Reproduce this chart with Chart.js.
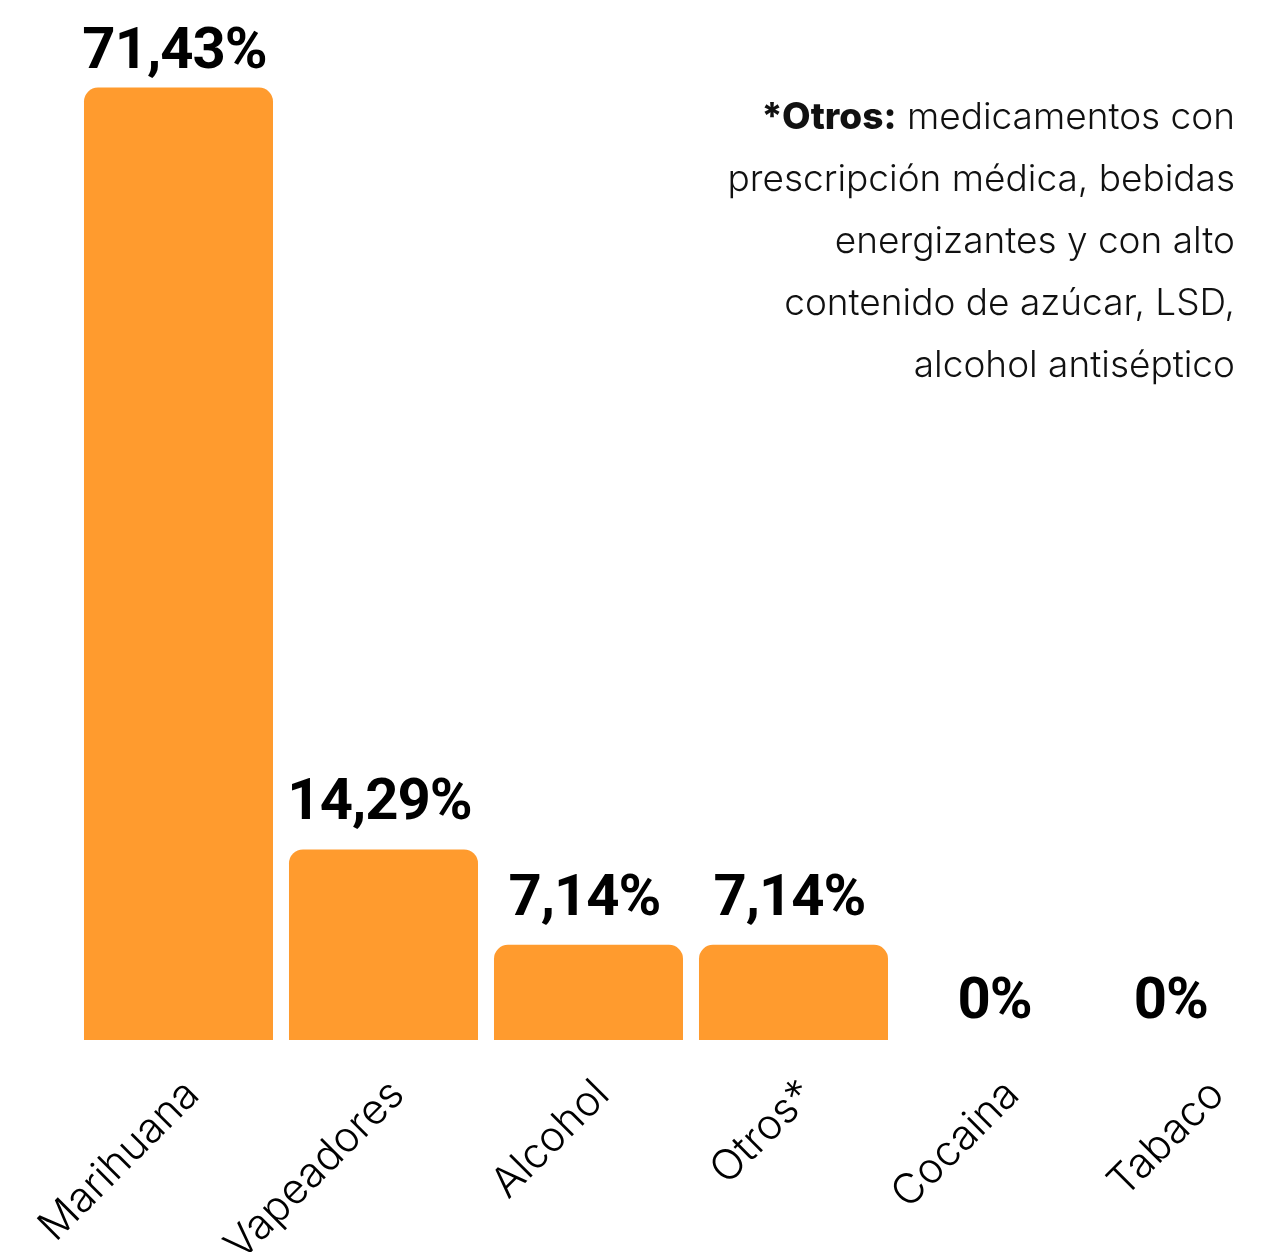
<!DOCTYPE html>
<html lang="es">
<head>
<meta charset="utf-8">
<title>Consumo de sustancias</title>
<script src="https://cdn.jsdelivr.net/npm/chart.js@4.4.1/dist/chart.umd.min.js"></script>
<style>
  html, body { margin: 0; padding: 0; background: #fff; overflow: hidden; }
  #wrap { position: relative; width: 1310px; height: 1252px; }
  .nota {
    position: fixed; top: 85px; right: 50px; text-align: right;
    font-family: Inter, sans-serif; font-weight: 300; font-size: 37px;
    line-height: 62px; color: #111;
  }
  .nota b { font-weight: 800; }
</style>
</head>
<body>
<div id="wrap"><canvas id="myChart"></canvas></div>
<div class="nota"><b>*Otros:</b> medicamentos con<br>prescripción médica, bebidas<br>energizantes y con alto<br>contenido de azúcar, LSD,<br>alcohol antiséptico</div>
<script>
"use strict"
// DATOS
const categorias = ['Marihuana', 'Vapeadores', 'Alcohol', 'Otros*', 'Cocaina', 'Tabaco'];
const porcentajes = [71.43, 14.29, 7.14, 7.14, 0, 0];
const etiquetas = ['71,43%', '14,29%', '7,14%', '7,14%', '0%', '0%'];

// PLUGIN PARA LAS ETIQUETAS DE VALOR SOBRE LAS BARRAS
const etiquetasPlugin = {
    id: 'etiquetas',
    afterDatasetsDraw(chart) {
        const ctx = chart.ctx;
        const meta = chart.getDatasetMeta(0);
        ctx.save();
        ctx.font = 'bold 58px Roboto';
        ctx.letterSpacing = '-1px';
        ctx.fillStyle = '#000';
        ctx.textAlign = 'center';
        ctx.textBaseline = 'alphabetic';
        meta.data.forEach((bar, i) => {
            const w = ctx.measureText(etiquetas[i]).width;
            // keep the label inside the visible page
            let x = Math.min(bar.x - 4, 1208 - w / 2);
            let y = bar.y - (porcentajes[i] === 0 ? 22 : 30);
            y = Math.max(y, 68);
            ctx.fillText(etiquetas[i], x, y);
        });
        ctx.restore();
    }
};

let data = {
    labels: categorias,
    datasets: [{
        data: porcentajes,
        backgroundColor: '#FF9B2E',
        borderRadius: { topLeft: 14, topRight: 14, bottomLeft: 0, bottomRight: 0 },
        borderSkipped: 'start',
        categoryPercentage: 1,
        barPercentage: 0.922
    }]
};

let config = {
    type: 'bar',
    data: data,
    options: {
        responsive: true,
        maintainAspectRatio: false,
        animation: false,
        layout: { padding: { top: 40, left: 76, right: 4, bottom: 0 } },
        plugins: {
            legend: { display: false },
            tooltip: { enabled: false }
        },
        scales: {
            x: {
                grid: { display: false },
                border: { display: false },
                ticks: {
                    color: '#000',
                    font: { family: 'Inter', size: 42, weight: 300 },
                    minRotation: 45,
                    maxRotation: 45,
                    autoSkip: false,
                    labelOffset: 14,
                    padding: 22
                },
                afterFit: (axis) => { axis.height = 212; }
            },
            y: {
                display: false,
                min: 0,
                max: 75
            }
        }
    },
    plugins: [etiquetasPlugin]
};

let myChart = new Chart(document.getElementById('myChart'), config);
</script>
</body>
</html>
